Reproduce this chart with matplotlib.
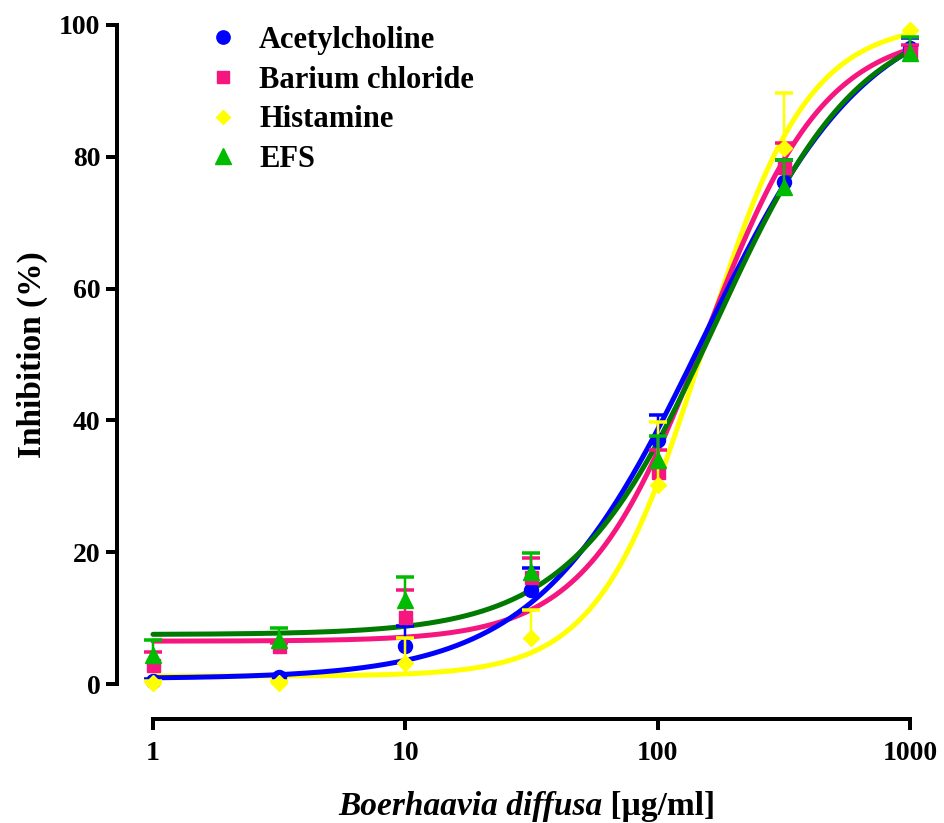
"""
Dose-response of Boerhaavia diffusa against four spasmogens.
Output: out.png
"""

import numpy as np
import matplotlib
matplotlib.use('Agg')
import matplotlib.pyplot as plt
from matplotlib.lines import Line2D

# ── Data ──────────────────────────────────────────────────────────────────────
conc = [1, 3.16, 10, 31.6, 100, 316, 1000]   # µg/ml

labels = ['Acetylcholine', 'Barium chloride', 'Histamine', 'EFS']

ach      = [0.5, 1.0, 5.7, 14.3, 37.0, 76.2, 96.5]
ach_sem  = [0.3, 0.3, 3.1, 3.3, 3.8, 3.3, 1.5]
bacl     = [2.9, 5.7, 10.2, 16.2, 32.2, 78.5, 95.7]
bacl_sem = [1.9, 0.5, 4.1, 2.9, 3.3, 3.6, 1.3]
hist     = [0.2, 0.2, 3.2, 7.0, 30.2, 81.3, 99.3]
hist_sem = [0.3, 0.3, 3.8, 4.2, 9.6, 8.4, 0.0]
efs      = [4.4, 6.7, 12.7, 17.0, 34.0, 75.4, 95.8]
efs_sem  = [2.3, 1.8, 3.5, 2.9, 3.6, 4.1, 2.4]

# four-parameter logistic fits: bottom, top, logEC50, hill slope
ach_fit  = [0.8, 104.0, 2.18, 1.32]
bacl_fit = [6.5, 99.3, 2.19, 1.83]
hist_fit = [1.2, 100.5, 2.18, 2.10]
efs_fit  = [7.5, 102.0, 2.23, 1.52]

# ── Style ─────────────────────────────────────────────────────────────────────
plt.rcParams.update({
    'font.family': 'Liberation Serif',
    'font.weight': 'bold',
    'font.size': 20,
})

BLUE   = '#0000FF'
PINK   = '#F5177F'
YELLOW = '#FFFF00'
GREEN  = '#00BB00'
DKGRN  = '#007A00'

PX = 72 / 100   # points per pixel at dpi 100


def logistic(x, p):
    b, t, lec, h = p
    return b + (t - b) / (1 + 10 ** ((lec - np.log10(x)) * h))


fig = plt.figure(figsize=(9.44, 8.23), dpi=100)
ax = fig.add_axes([153 / 944, 139 / 823, 757 / 944, 659 / 823])

xs = np.logspace(0, 3, 300)
curves = [(hist_fit, YELLOW), (bacl_fit, PINK), (ach_fit, BLUE), (efs_fit, DKGRN)]
for z, (p, c) in enumerate(curves):
    ax.plot(xs, logistic(xs, p), color=c, lw=5 * PX, zorder=2 + z * 0.1,
            clip_on=False, solid_capstyle='round')

# marker sizes in pixels
points = [
    (ach,  ach_sem,  'o', 14, BLUE),
    (bacl, bacl_sem, 's', 13, PINK),
    (hist, hist_sem, 'D', 11, YELLOW),
    (efs,  efs_sem,  '^', 16, GREEN),
]
for z, (y, e, m, ms, c) in enumerate(points):
    y = np.array(y)
    e = np.array(e)
    zz = 3 + z * 0.1
    keep = e > 0
    ax.errorbar(conc, y, yerr=[np.zeros_like(e), e], fmt='none', ecolor=c,
                elinewidth=2.5 * PX, capsize=0, zorder=zz, clip_on=False)
    ax.plot(np.array(conc)[keep], (y + e)[keep], ls='none', marker='_',
            ms=18 * PX, mew=3.5 * PX, color=c, zorder=zz, clip_on=False)
    ax.plot(conc, y, ls='none', marker=m, ms=ms * PX,
            color=c, mec=c, zorder=zz + 0.05, clip_on=False)

# ── Axes ──────────────────────────────────────────────────────────────────────
ax.set_xscale('log')
ax.set_xlim(1, 1000)
ax.set_ylim(0, 100)
ax.set_xticks([1, 10, 100, 1000])
ax.set_xticklabels(['1', '10', '100', '1000'])
ax.xaxis.set_minor_locator(matplotlib.ticker.NullLocator())
ax.set_yticks([0, 20, 40, 60, 80, 100])

for s in ['top', 'right']:
    ax.spines[s].set_visible(False)
ax.spines['left'].set_position(('outward', 36 * PX))
ax.spines['bottom'].set_position(('outward', 35 * PX))
for s in ['left', 'bottom']:
    ax.spines[s].set_linewidth(4 * PX)
    ax.spines[s].set_capstyle('projecting')
ax.tick_params(axis='both', length=11 * PX, width=4 * PX, labelsize=20)
ax.tick_params(axis='y', pad=4)
ax.tick_params(axis='x', pad=8)
ax.patch.set_visible(False)

ax.set_ylabel('Inhibition (%)', fontsize=24, fontweight='bold', labelpad=8)

t1 = fig.text(338 / 944, 8 / 823, 'Boerhaavia diffusa', fontsize=24,
              fontweight='bold', style='italic', va='baseline', ha='left')
ax.annotate(' [\u00b5g/ml]', xy=(1, 0), xycoords=t1, va='bottom', ha='left',
            fontsize=24, fontweight='bold', annotation_clip=False)

# ── Legend ────────────────────────────────────────────────────────────────────
handles = [Line2D([], [], ls='none', marker=m, ms=ms * PX * 0.95, color=c, mec=c)
           for (_, _, m, ms, c) in points]
leg = ax.legend(handles, labels, loc='upper left', frameon=False,
                bbox_to_anchor=(208 / 944, 1 - 26 / 823), bbox_transform=fig.transFigure,
                fontsize=22, handlelength=1.0, handletextpad=0.67, labelspacing=0.35,
                borderpad=0, borderaxespad=0)

fig.savefig('out.png', dpi=100)
